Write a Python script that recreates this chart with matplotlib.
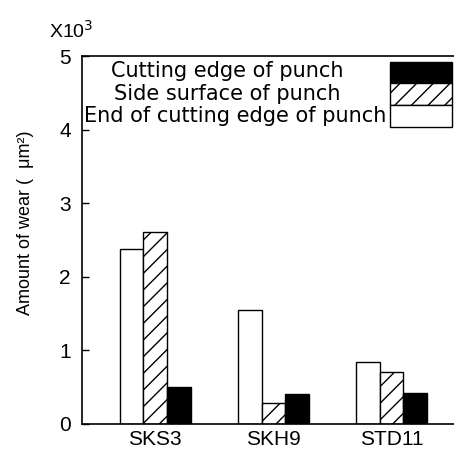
import numpy as np
import matplotlib.pyplot as plt
from matplotlib.patches import Rectangle

plt.rcParams['font.family'] = ['Liberation Sans', 'DejaVu Sans']
plt.rcParams['hatch.linewidth'] = 1.0

steels = ["SKS3", "SKH9", "STD11"]
end_edge = [2.38, 1.55, 0.84]
side_surface = [2.61, 0.29, 0.71]
cutting_edge = [0.50, 0.41, 0.42]
yticks = [0, 1, 2, 3, 4, 5]

fig = plt.figure(figsize=(4.54, 4.51), dpi=100)
ax = fig.add_axes([0.1806, 0.0599, 0.8194, 0.8159])

x = np.arange(len(steels))
w = 0.2
ax.bar(x - w, end_edge, w, color="white", edgecolor="black", linewidth=1.0)
ax.bar(x, side_surface, w, color="white", edgecolor="black", linewidth=1.0, hatch="//")
ax.bar(x + w, cutting_edge, w, color="black", edgecolor="black", linewidth=1.0)

ax.set_xlim(-0.62, 2.53)
ax.set_ylim(0, 5)
ax.set_yticks(yticks)
ax.set_yticklabels([str(t) for t in yticks], fontsize=15)
ax.set_xticks(x)
ax.set_xticklabels(steels, fontsize=15)
ax.tick_params(axis="y", direction="in", length=5, width=1, pad=8)
ax.tick_params(axis="x", length=0, pad=4)
ax.spines["right"].set_visible(False)
for s in ["left", "bottom", "top"]:
    ax.spines[s].set_linewidth(1.2)

fig.text(0.057, 0.505, "Amount of wear (  μm²)", rotation=90, fontsize=13,
         ha="center", va="center")
fig.text(0.108, 0.916, "X10$^3$", fontsize=14, ha="left", va="baseline")

# legend drawn by hand: labels on the left, keys stacked on the right
labels = ["Cutting edge of punch", "Side surface of punch", "End of cutting edge of punch"]
faces = ["black", "white", "white"]
hatches = [None, "//", None]
baselines = [77, 100, 122]
centers = [227, 227, 235]
row_h = 21.5 / 451
top = 1 - 62 / 451
kx = 390 / 454
for i in range(3):
    y0 = top - (i + 1) * row_h
    fig.patches.append(Rectangle((kx, y0), 1 - kx - 0.004, row_h, transform=fig.transFigure,
                                 facecolor=faces[i], edgecolor="black", hatch=hatches[i],
                                 linewidth=1.0))
    fig.text(centers[i] / 454, 1 - baselines[i] / 451, labels[i], fontsize=15,
             family="DejaVu Sans", ha="center", va="baseline")

fig.savefig("out.png", dpi=100)
